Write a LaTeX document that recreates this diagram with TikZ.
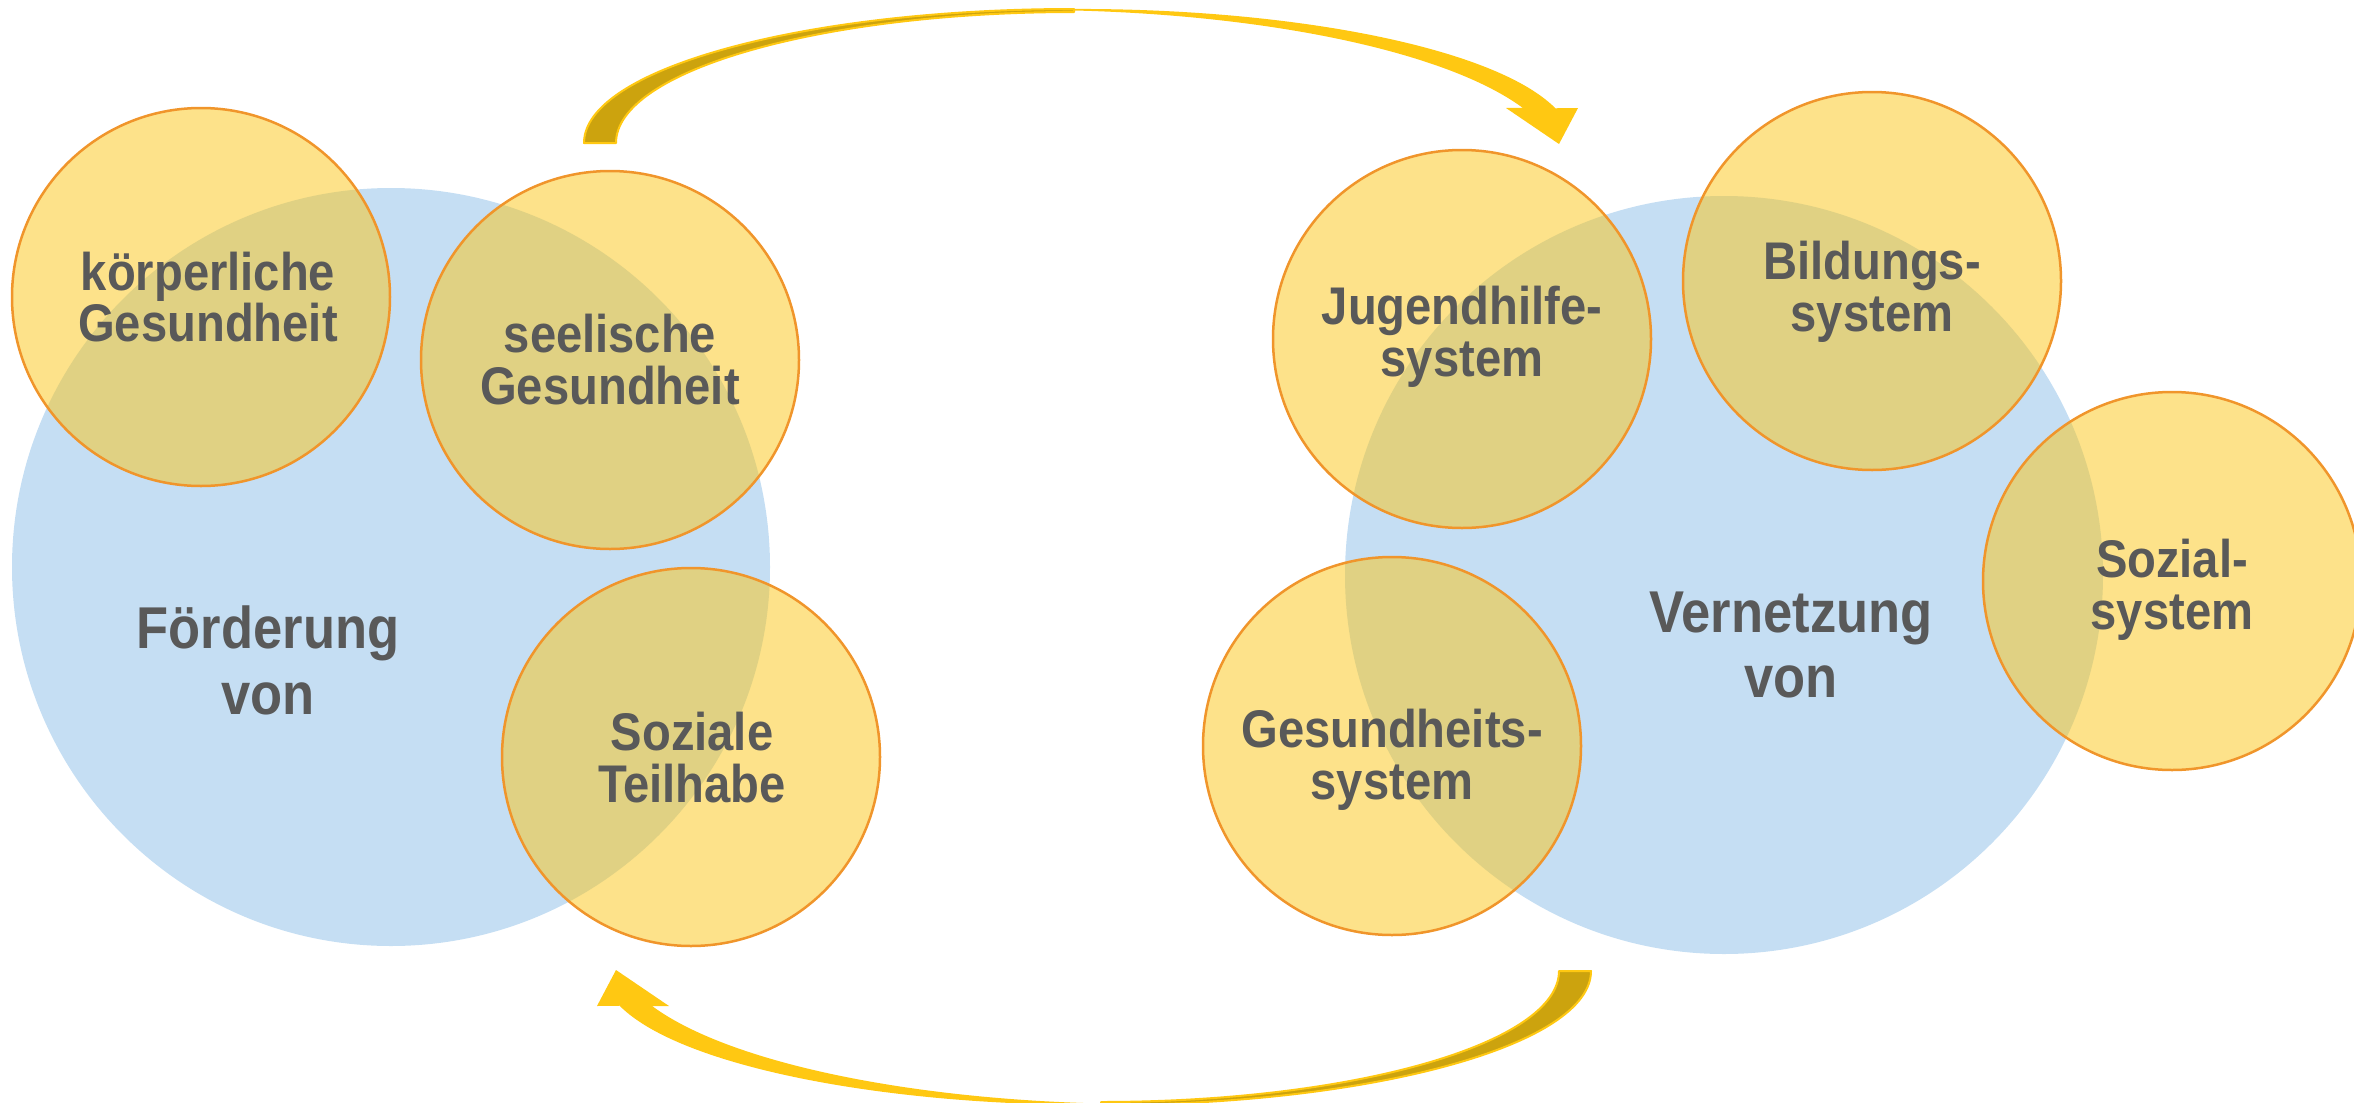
\documentclass[tikz,border=0pt]{standalone}
\usepackage{fontspec}
\setmainfont{Liberation Sans}[FakeStretch=0.89]
\definecolor{cblue}{RGB}{197,222,243}
\definecolor{cgold}{RGB}{251,197,21}
\definecolor{corange}{RGB}{240,149,43}
\definecolor{ctext}{RGB}{89,89,89}
\definecolor{carrow}{RGB}{255,200,18}
\definecolor{cdark}{RGB}{204,163,14}
\begin{document}
\begin{tikzpicture}[x=1pt,y=-1pt,
  bluecirc/.style={circle, fill=cblue, minimum size=758pt, inner sep=0pt},
  ycirc/.style={circle, fill=cgold, fill opacity=0.5, draw=corange, draw opacity=1, line width=2.5pt, minimum size=378pt, inner sep=0pt},
  ytext/.style={anchor=base, text=ctext, font=\fontsize{53}{50}\selectfont\bfseries, inner sep=0pt},
  btext/.style={anchor=base, text=ctext, font=\fontsize{59}{60}\selectfont\bfseries, inner sep=0pt},
  arrowfront/.style={fill=carrow},
  arrowback/.style={fill=cdark, draw=carrow, line width=2pt, line join=round}]
\useasboundingbox (0,0) rectangle (2354,1103);
\clip (0,0) rectangle (2354,1103);
% big blue circles
\node[bluecirc] (foerd) at (391,567) {};
\node[bluecirc] (vernetz) at (1724,575) {};
% curved arrows (top one, and the same rotated for the bottom one)
\foreach \ang in {0,180}{
  \begin{scope}[rotate around={\ang:(1087.5,557)}]
    \path[arrowback] (584,143) arc[start angle=180, end angle=270, x radius=490, y radius=134]
      -- (1074,12) arc[start angle=270, end angle=180, x radius=458, y radius=131] -- cycle;
    \path[arrowfront] (1030,9.6) arc[start angle=264.4, end angle=345, x radius=494, y radius=134]
      -- (1578,108) -- (1559,144) -- (1506,108) -- (1522.8,107.9)
      arc[start angle=338.4, end angle=270, x radius=530, y radius=155] -- cycle;
  \end{scope}
}
% yellow circles
\node[ycirc] (koerper) at (201,297) {};
\node[ycirc] (seele) at (610,360) {};
\node[ycirc] (sozteil) at (691,757) {};
\node[ycirc] (jugend) at (1462,339) {};
\node[ycirc] (bildung) at (1872,281) {};
\node[ycirc] (sozsys) at (2172,581) {};
\node[ycirc] (gesund) at (1392,746) {};
% texts
\node[ytext] (t1a) at (208,290) {körperliche};
\node[ytext] (t1b) at (208,341) {Gesundheit};
\node[ytext] (t2a) at (610,352) {seelische};
\node[ytext] (t2b) at (610,404) {Gesundheit};
\node[ytext] (t3a) at (692,750) {Soziale};
\node[ytext] (t3b) at (692,802) {Teilhabe};
\node[btext] (t4a) at (268,648) {Förderung};
\node[btext] (t4b) at (268,714) {von};
\node[ytext] (t5a) at (1462,324) {Jugendhilfe-};
\node[ytext] (t5b) at (1462,376) {system};
\node[ytext] (t6a) at (1872,279) {Bildungs-};
\node[ytext] (t6b) at (1872,331) {system};
\node[ytext] (t7a) at (2172,577) {Sozial-};
\node[ytext] (t7b) at (2172,629) {system};
\node[ytext] (t8a) at (1392,747) {Gesundheits-};
\node[ytext] (t8b) at (1392,799) {system};
\node[btext] (t9a) at (1791,632) {Vernetzung};
\node[btext] (t9b) at (1791,697) {von};
\end{tikzpicture}
\end{document}
